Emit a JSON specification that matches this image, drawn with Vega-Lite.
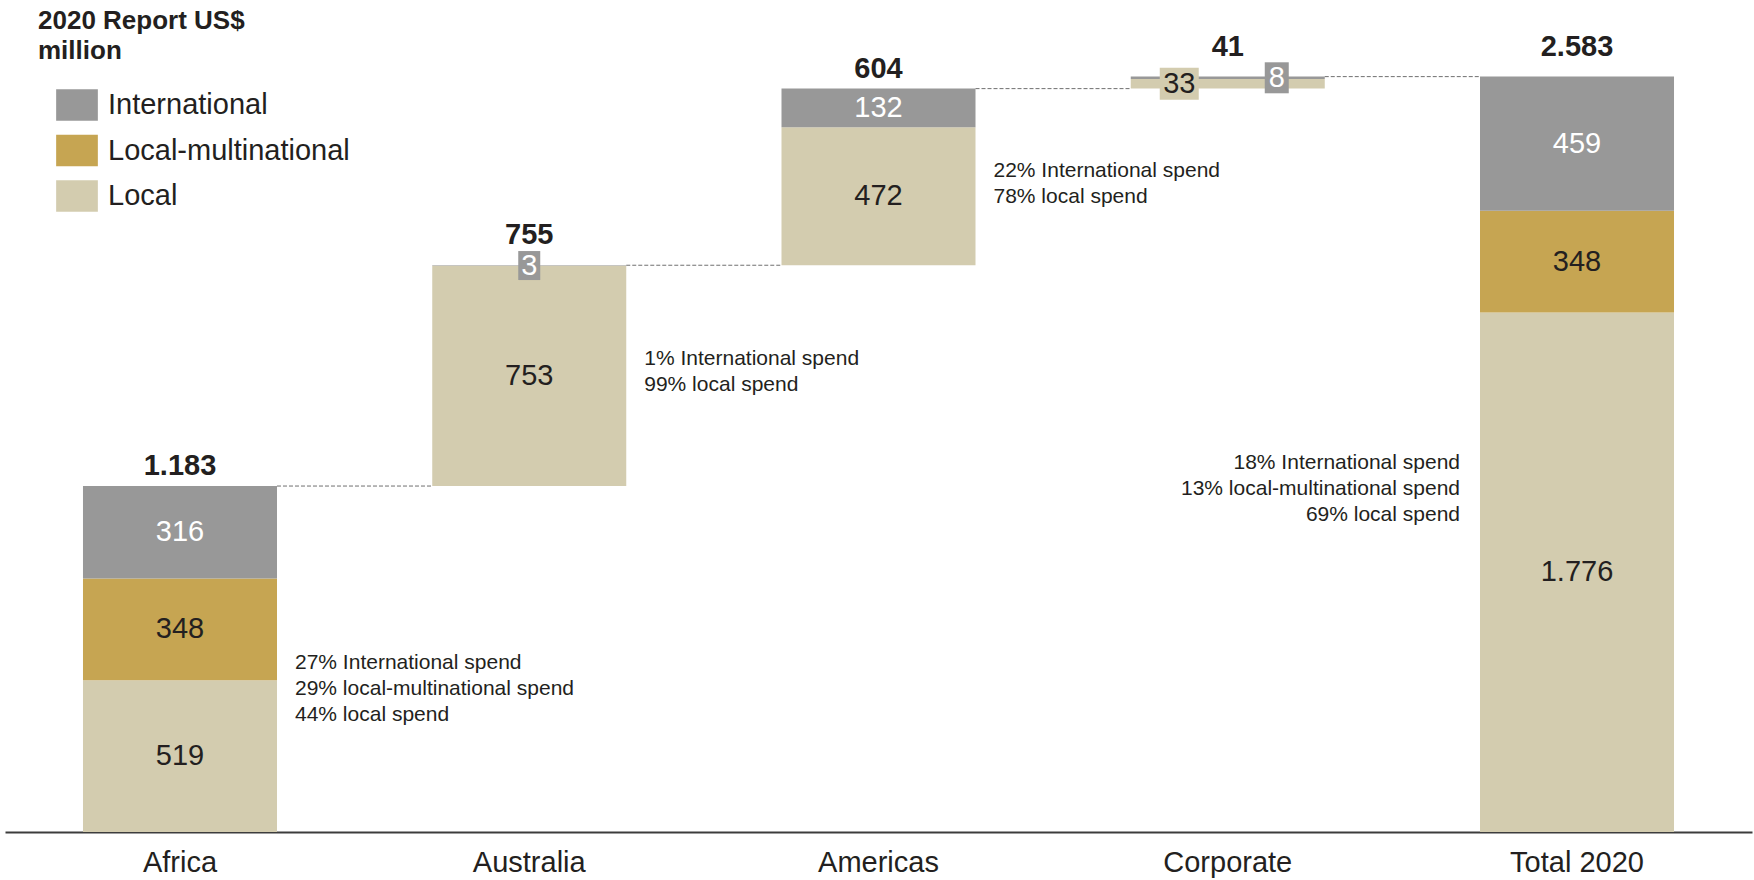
{
  "$schema": "https://vega.github.io/schema/vega-lite/v6.json",
  "width": 1747,
  "height": 832,
  "autosize": {"type": "none"},
  "padding": {"left": 5, "top": 0, "right": 2, "bottom": 48},
  "background": "white",
  "config": {"view": {"stroke": null}, "font": "Liberation Sans"},
  "datasets": {
    "segments": [
      {"category": "Africa", "type": "Local", "start": 0, "end": 519, "label": "519"},
      {"category": "Africa", "type": "Local-multinational", "start": 519, "end": 867, "label": "348"},
      {"category": "Africa", "type": "International", "start": 867, "end": 1183, "label": "316"},
      {"category": "Australia", "type": "Local", "start": 1183, "end": 1936, "label": "753"},
      {"category": "Australia", "type": "International", "start": 1936, "end": 1938, "label": "3"},
      {"category": "Americas", "type": "Local", "start": 1938, "end": 2410, "label": "472"},
      {"category": "Americas", "type": "International", "start": 2410, "end": 2542, "label": "132"},
      {"category": "Corporate", "type": "Local", "start": 2542, "end": 2575, "label": "33"},
      {"category": "Corporate", "type": "International", "start": 2575, "end": 2583, "label": "8"},
      {"category": "Total 2020", "type": "Local", "start": 0, "end": 1776, "label": "1.776"},
      {"category": "Total 2020", "type": "Local-multinational", "start": 1776, "end": 2124, "label": "348"},
      {"category": "Total 2020", "type": "International", "start": 2124, "end": 2583, "label": "459"}
    ],
    "totals": [
      {"category": "Africa", "value": 1183, "label": "1.183"},
      {"category": "Australia", "value": 1938, "label": "755"},
      {"category": "Americas", "value": 2542, "label": "604"},
      {"category": "Corporate", "value": 2583, "label": "41"},
      {"category": "Total 2020", "value": 2583, "label": "2.583"}
    ],
    "links": [
      {"from": "Africa", "to": "Australia", "level": 1183},
      {"from": "Australia", "to": "Americas", "level": 1938},
      {"from": "Americas", "to": "Corporate", "level": 2542},
      {"from": "Corporate", "to": "Total 2020", "level": 2583}
    ],
    "notes": [
      {"category": "Africa", "at": 556, "text": "27% International spend\n29% local-multinational spend\n44% local spend"},
      {"category": "Australia", "at": 1597, "text": "1% International spend\n99% local spend"},
      {"category": "Americas", "at": 2241, "text": "22% International spend\n78% local spend"},
      {"category": "Total 2020", "at": 1241, "text": "18% International spend\n13% local-multinational spend\n69% local spend"}
    ]
  },
  "layer": [
    {
      "data": {"name": "segments"},
      "mark": {"type": "bar"},
      "encoding": {
        "x": {"field": "category", "type": "nominal",
          "scale": {"domain": ["Africa", "Australia", "Americas", "Corporate", "Total 2020"], "paddingInner": 0.4445, "paddingOuter": 0.2233},
          "axis": {"title": null, "labelAngle": 0, "ticks": false, "tickSize": 0, "labelPadding": 39, "labelBaseline": "alphabetic", "labelFontSize": 29, "labelColor": "#231f20", "labelFont": "Liberation Sans", "domainColor": "#3c3c3c", "domainWidth": 2, "grid": false}},
        "y": {"field": "start", "type": "quantitative", "scale": {"domain": [0, 2845], "nice": false}, "axis": null},
        "y2": {"field": "end"},
        "color": {"field": "type", "type": "nominal",
          "scale": {"domain": ["International", "Local-multinational", "Local"], "range": ["#989898", "#C6A552", "#D3CCAF"]},
          "legend": {"orient": "none", "legendX": 33, "legendY": 8, "title": ["2020 Report US$", "million"], "titleLimit": 600, "titleFont": "Liberation Sans", "titleFontSize": 26, "titleFontWeight": "bold", "titleColor": "#231f20", "titleLineHeight": 30, "titlePadding": 20, "titleAnchor": "start", "labelFont": "Liberation Sans", "labelFontSize": 29, "labelColor": "#231f20", "labelLimit": 500, "symbolType": "M-1,-0.755H1V0.755H-1Z", "symbolSize": 1739, "symbolOffset": 18, "labelOffset": 10, "rowPadding": 8.5, "symbolStrokeWidth": 0, "symbolOpacity": 1, "padding": 0}}
      }
    },
    {
      "data": {"name": "links"},
      "mark": {"type": "rule", "strokeDash": [4, 2], "color": "#707070", "strokeWidth": 1},
      "encoding": {
        "x": {"field": "from", "type": "nominal", "bandPosition": 1,
          "scale": {"domain": ["Africa", "Australia", "Americas", "Corporate", "Total 2020"], "paddingInner": 0.4445, "paddingOuter": 0.2233},
          "axis": {"title": null, "labelAngle": 0, "ticks": false, "tickSize": 0, "labelPadding": 39, "labelBaseline": "alphabetic", "labelFontSize": 29, "labelColor": "#231f20", "labelFont": "Liberation Sans", "domainColor": "#3c3c3c", "domainWidth": 2, "grid": false}},
        "x2": {"field": "to", "bandPosition": 0},
        "y": {"field": "level", "type": "quantitative", "scale": {"domain": [0, 2845], "nice": false}, "axis": null}
      }
    },
    {
      "data": {"name": "segments"},
      "transform": [
        {"fold": ["start", "end"], "as": ["edge", "v"]},
        {"aggregate": [{"op": "mean", "field": "v", "as": "mid"}], "groupby": ["category", "type", "label"]}
      ],
      "encoding": {
        "x": {"field": "category", "type": "nominal",
          "scale": {"domain": ["Africa", "Australia", "Americas", "Corporate", "Total 2020"], "paddingInner": 0.4445, "paddingOuter": 0.2233},
          "axis": {"title": null, "labelAngle": 0, "ticks": false, "tickSize": 0, "labelPadding": 39, "labelBaseline": "alphabetic", "labelFontSize": 29, "labelColor": "#231f20", "labelFont": "Liberation Sans", "domainColor": "#3c3c3c", "domainWidth": 2, "grid": false}},
        "y": {"field": "mid", "type": "quantitative", "scale": {"domain": [0, 2845], "nice": false}, "axis": null},
        "text": {"field": "label", "type": "nominal"}
      },
      "layer": [
        {
          "transform": [{"filter": "!(datum.category == 'Corporate' || (datum.category == 'Australia' && datum.type == 'International'))"}],
          "mark": {"type": "text", "fontSize": 29, "align": "center", "baseline": "middle"},
          "encoding": {"color": {"condition": {"test": "datum.type == 'International'", "value": "#ffffff"}, "value": "#231f20"}}
        },
        {
          "transform": [{"filter": "datum.category == 'Australia' && datum.type == 'International'"}],
          "mark": {"type": "point", "shape": "M-11,-14.5H11V14.5H-11Z", "size": 4, "filled": true, "opacity": 1, "color": "#989898", "strokeWidth": 0}
        },
        {
          "transform": [{"filter": "datum.category == 'Australia' && datum.type == 'International'"}],
          "mark": {"type": "text", "fontSize": 29, "align": "center", "baseline": "middle", "color": "#ffffff"}
        },
        {
          "transform": [{"filter": "datum.category == 'Corporate' && datum.type == 'Local'"}],
          "mark": {"type": "point", "shape": "M-19.5,-16H19.5V16H-19.5Z", "size": 4, "filled": true, "opacity": 1, "color": "#D3CCAF", "strokeWidth": 0, "xOffset": -48.5}
        },
        {
          "transform": [{"filter": "datum.category == 'Corporate' && datum.type == 'Local'"}],
          "mark": {"type": "text", "fontSize": 29, "align": "center", "baseline": "middle", "color": "#231f20", "xOffset": -48.5}
        },
        {
          "transform": [{"filter": "datum.category == 'Corporate' && datum.type == 'International'"}],
          "mark": {"type": "point", "shape": "M-12,-15.5H12V15.5H-12Z", "size": 4, "filled": true, "opacity": 1, "color": "#989898", "strokeWidth": 0, "xOffset": 49}
        },
        {
          "transform": [{"filter": "datum.category == 'Corporate' && datum.type == 'International'"}],
          "mark": {"type": "text", "fontSize": 29, "align": "center", "baseline": "middle", "color": "#ffffff", "xOffset": 49}
        }
      ]
    },
    {
      "data": {"name": "totals"},
      "encoding": {
        "x": {"field": "category", "type": "nominal",
          "scale": {"domain": ["Africa", "Australia", "Americas", "Corporate", "Total 2020"], "paddingInner": 0.4445, "paddingOuter": 0.2233},
          "axis": {"title": null, "labelAngle": 0, "ticks": false, "tickSize": 0, "labelPadding": 39, "labelBaseline": "alphabetic", "labelFontSize": 29, "labelColor": "#231f20", "labelFont": "Liberation Sans", "domainColor": "#3c3c3c", "domainWidth": 2, "grid": false}},
        "y": {"field": "value", "type": "quantitative", "scale": {"domain": [0, 2845], "nice": false}, "axis": null},
        "text": {"field": "label", "type": "nominal"}
      },
      "layer": [
        {
          "transform": [{"filter": "datum.category == 'Africa' || datum.category == 'Americas'"}],
          "mark": {"type": "text", "fontSize": 29, "fontWeight": "bold", "align": "center", "baseline": "alphabetic", "color": "#231f20", "dy": -11}
        },
        {
          "transform": [{"filter": "!(datum.category == 'Africa' || datum.category == 'Americas')"}],
          "mark": {"type": "text", "fontSize": 29, "fontWeight": "bold", "align": "center", "baseline": "alphabetic", "color": "#231f20", "dy": -21}
        }
      ]
    },
    {
      "data": {"name": "notes"},
      "transform": [{"filter": "datum.category != 'Total 2020'"}],
      "mark": {"type": "text", "fontSize": 21, "align": "left", "baseline": "alphabetic", "color": "#231f20", "lineHeight": 26, "lineBreak": "\n", "xOffset": 18},
      "encoding": {
        "x": {"field": "category", "type": "nominal", "bandPosition": 1,
          "scale": {"domain": ["Africa", "Australia", "Americas", "Corporate", "Total 2020"], "paddingInner": 0.4445, "paddingOuter": 0.2233},
          "axis": {"title": null, "labelAngle": 0, "ticks": false, "tickSize": 0, "labelPadding": 39, "labelBaseline": "alphabetic", "labelFontSize": 29, "labelColor": "#231f20", "labelFont": "Liberation Sans", "domainColor": "#3c3c3c", "domainWidth": 2, "grid": false}},
        "y": {"field": "at", "type": "quantitative", "scale": {"domain": [0, 2845], "nice": false}, "axis": null},
        "text": {"field": "text", "type": "nominal"}
      }
    },
    {
      "data": {"name": "notes"},
      "transform": [{"filter": "datum.category == 'Total 2020'"}],
      "mark": {"type": "text", "fontSize": 21, "align": "right", "baseline": "alphabetic", "color": "#231f20", "lineHeight": 26, "lineBreak": "\n", "xOffset": -20},
      "encoding": {
        "x": {"field": "category", "type": "nominal", "bandPosition": 0,
          "scale": {"domain": ["Africa", "Australia", "Americas", "Corporate", "Total 2020"], "paddingInner": 0.4445, "paddingOuter": 0.2233},
          "axis": {"title": null, "labelAngle": 0, "ticks": false, "tickSize": 0, "labelPadding": 39, "labelBaseline": "alphabetic", "labelFontSize": 29, "labelColor": "#231f20", "labelFont": "Liberation Sans", "domainColor": "#3c3c3c", "domainWidth": 2, "grid": false}},
        "y": {"field": "at", "type": "quantitative", "scale": {"domain": [0, 2845], "nice": false}, "axis": null},
        "text": {"field": "text", "type": "nominal"}
      }
    }
  ]
}
